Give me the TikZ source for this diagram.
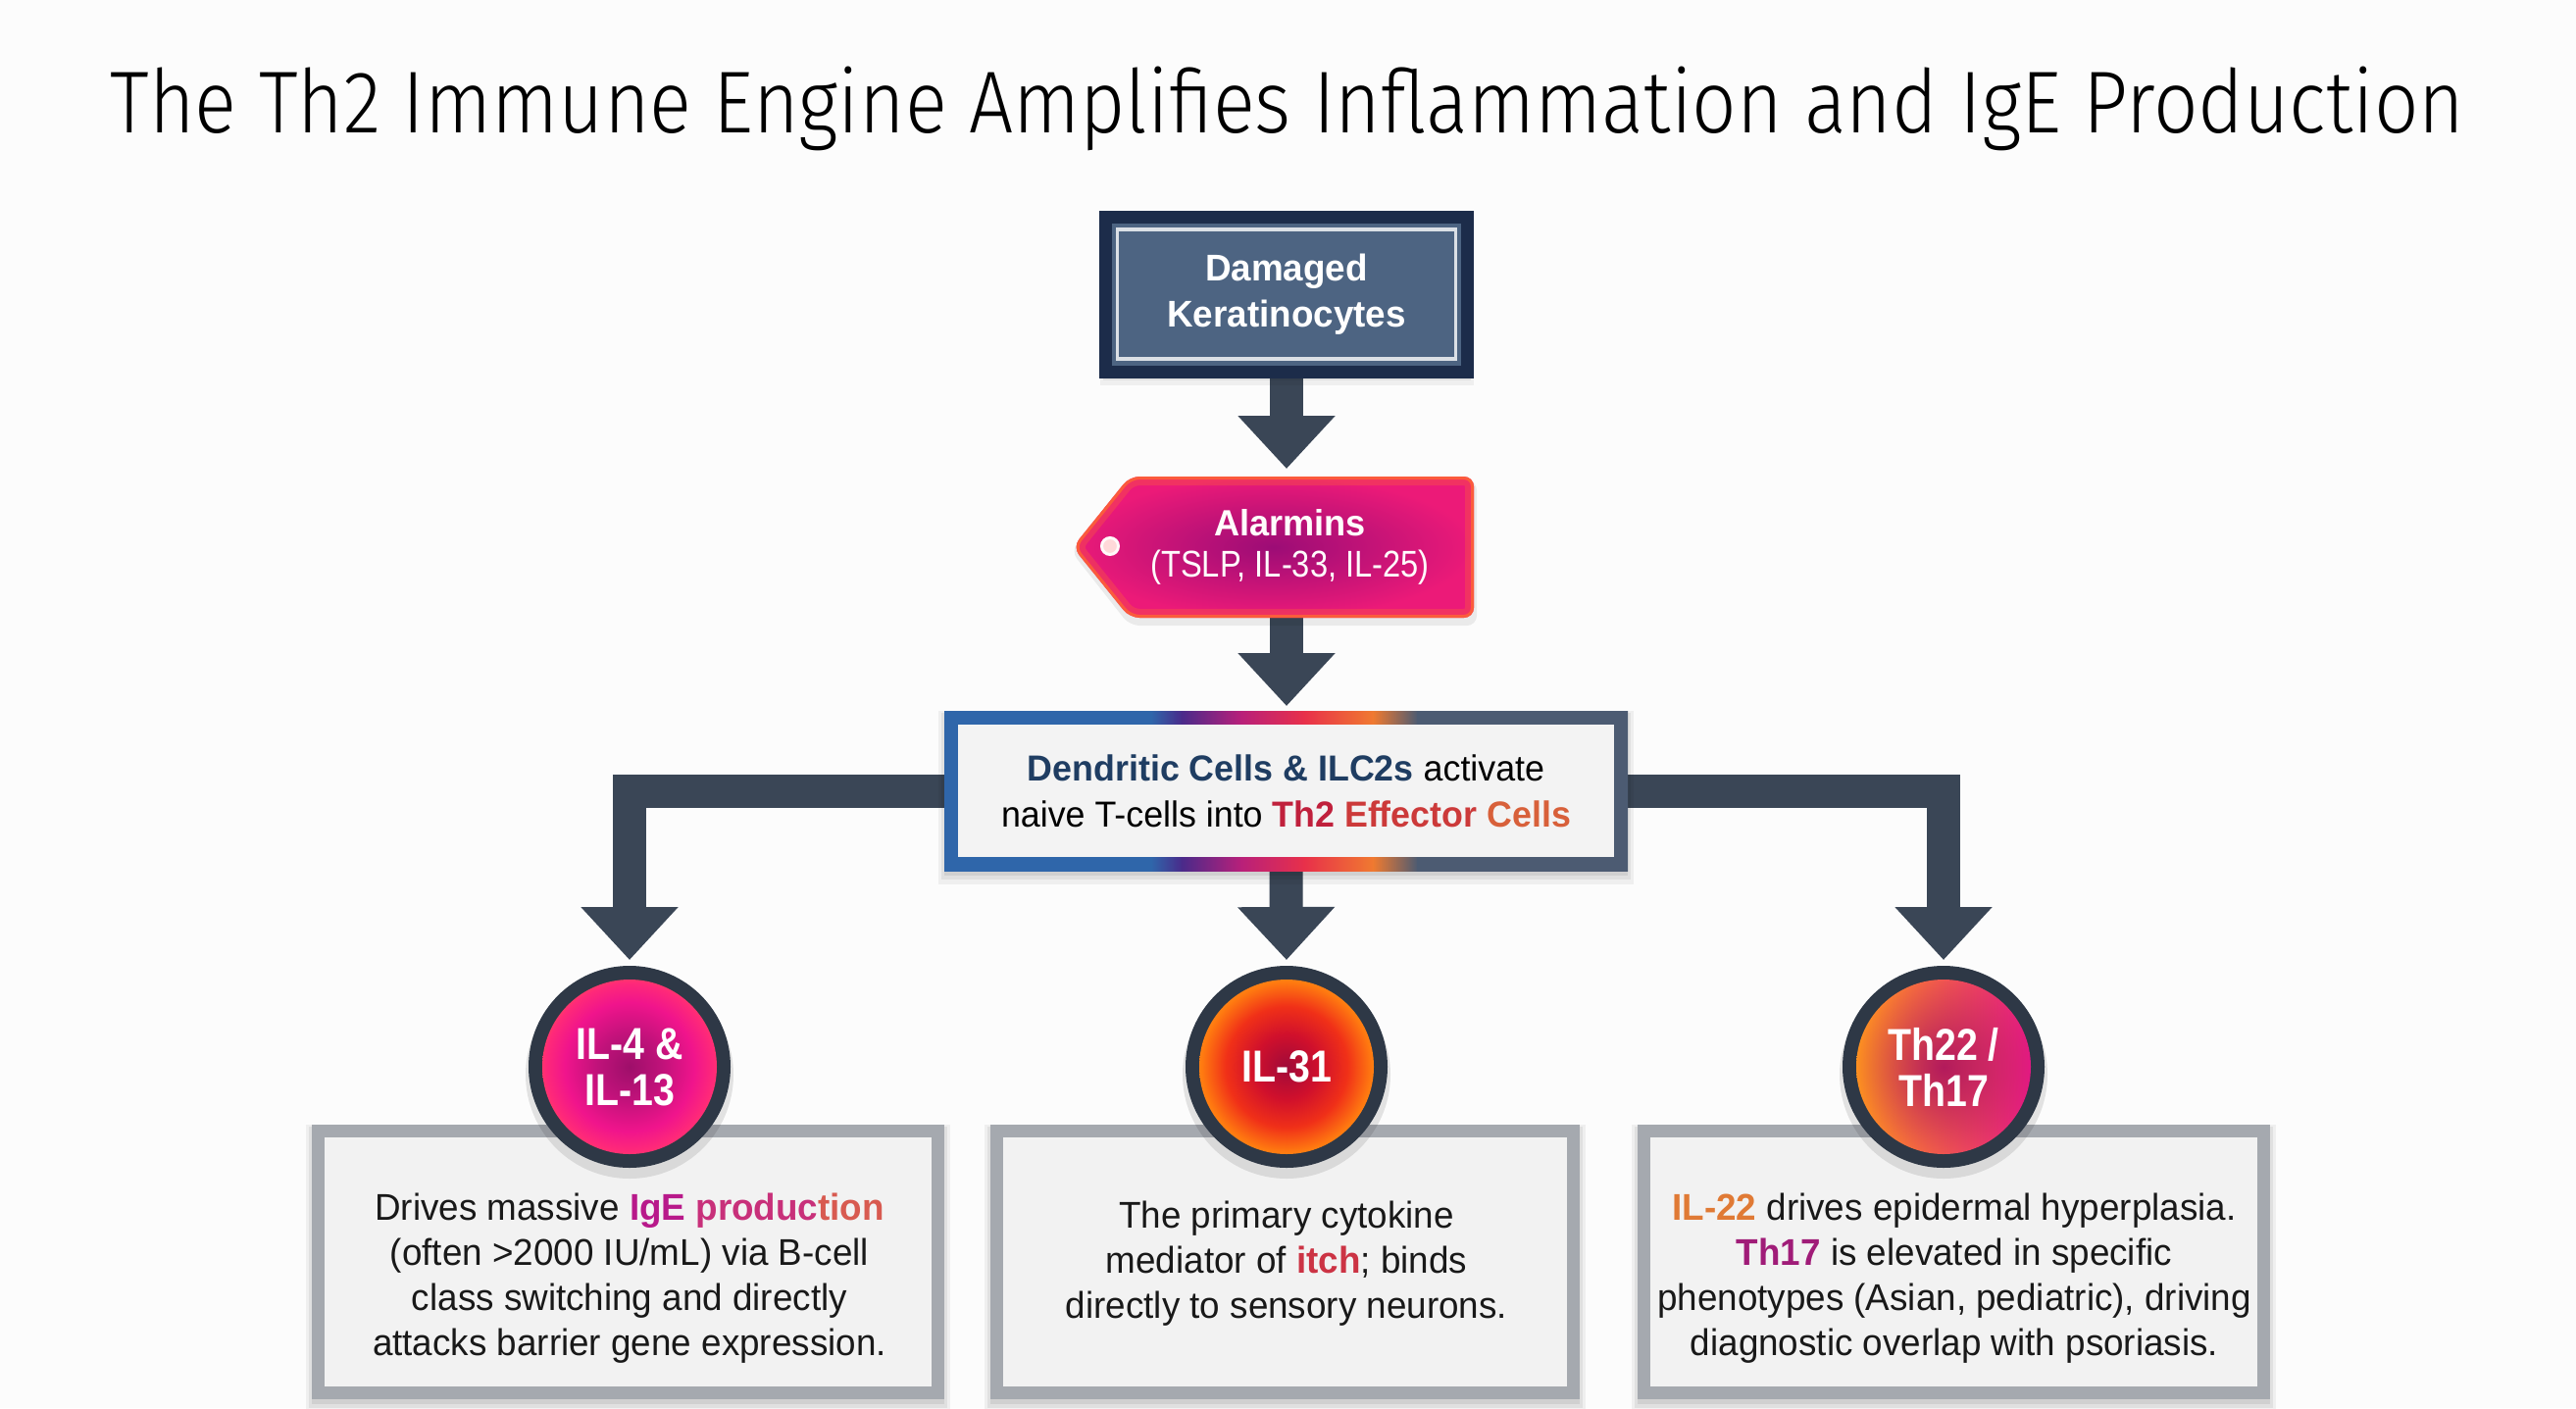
\documentclass[tikz,border=0pt]{standalone}
\usepackage{fontspec}
\setmainfont{Liberation Sans}[FakeStretch=0.97]
\newfontfamily\condfont{Liberation Sans}[FakeStretch=0.86]
\newfontfamily\titlefont{Fira Sans Light}
\usetikzlibrary{arrows.meta,fadings,calc}

\pgfdeclarelayer{bg}
\pgfdeclarelayer{shadowl}
\pgfdeclarelayer{deco}
\pgfsetlayers{bg,shadowl,deco,main}

\definecolor{bgc}{HTML}{FCFCFC}
\definecolor{navy}{HTML}{1C2C4A}
\definecolor{slate}{HTML}{4D6482}
\definecolor{arrowc}{HTML}{3A4656}
\definecolor{ringc}{HTML}{2E3846}
\definecolor{gborder}{HTML}{A5A9AF}
\definecolor{gfill}{HTML}{F2F2F2}
\definecolor{dcblue}{HTML}{2F66AA}
\definecolor{dcpurple}{HTML}{4A2A8A}
\definecolor{dcmag}{HTML}{B8207A}
\definecolor{dcred}{HTML}{E8304A}
\definecolor{dcorange}{HTML}{F07A30}
\definecolor{dcslate}{HTML}{4C5B72}
\definecolor{dcin}{HTML}{F3F3F3}
\definecolor{dcnavy}{HTML}{1F3D62}
\definecolor{th2a}{HTML}{C0203C}
\definecolor{th2b}{HTML}{CC3A3A}
\definecolor{th2c}{HTML}{D8603A}
\definecolor{igeA}{HTML}{B8198A}
\definecolor{igeB}{HTML}{C8307A}
\definecolor{igeC}{HTML}{D85A50}
\definecolor{itchc}{HTML}{CC3344}
\definecolor{il22c}{HTML}{E07A35}
\definecolor{th17c}{HTML}{A01C78}
\definecolor{tagin}{HTML}{9C0C76}
\definecolor{tagout}{HTML}{EC1A78}
\definecolor{tagglow}{HTML}{FF6A30}
\definecolor{m1}{HTML}{9E0F6A}
\definecolor{m2}{HTML}{C0127A}
\definecolor{m3}{HTML}{F0148C}
\definecolor{m4}{HTML}{FF2A78}
\definecolor{m5}{HTML}{FF6A30}
\definecolor{r1}{HTML}{A00A3A}
\definecolor{r2}{HTML}{D0102C}
\definecolor{r3}{HTML}{F03018}
\definecolor{r4}{HTML}{FF7A10}
\definecolor{r5}{HTML}{FF9A20}
\definecolor{thorange}{HTML}{FF9A18}
\definecolor{thmag}{HTML}{E0108A}
\definecolor{thcore}{HTML}{A8105E}

\pgfdeclareradialshading{shilfour}{\pgfpoint{0bp}{0bp}}{color(0bp)=(m1); color(8bp)=(m2); color(16bp)=(m3); color(21bp)=(m4); color(25bp)=(m5); color(50bp)=(m5)}
\pgfdeclareradialshading{shilthirtyone}{\pgfpoint{0bp}{0bp}}{color(0bp)=(r1); color(8bp)=(r2); color(15bp)=(r3); color(21bp)=(r4); color(25bp)=(r5); color(50bp)=(r5)}
\tikzfading[name=corefade, inner color=transparent!15, outer color=transparent!100]

\newcommand\mysoftshadow[2]{%
  \begin{pgfonlayer}{shadowl}
    \fill[black, opacity=0.05] ($(#1)+(-6,0)$) rectangle ($(#2)+(6,14)$);
    \fill[black, opacity=0.06] ($(#1)+(-3,2)$) rectangle ($(#2)+(3,9)$);
    \fill[black, opacity=0.07] ($(#1)+(0,3)$) rectangle ($(#2)+(0,5)$);
  \end{pgfonlayer}}

\tikzset{
  conn/.style={draw=arrowc, line width=3.4mm, line join=miter, -{Triangle[width=9.6mm,length=5.4mm]}},
  gbox/.style={draw=gborder, fill=gfill, line width=1.3mm, minimum height=26.7mm, inner sep=0pt, outer sep=0pt},
  bodytxt/.style={align=center, font=\fontsize{10.8pt}{13.1pt}\selectfont, text=black!90, inner sep=0pt},
  cyto/.style={circle, fill=ringc, minimum size=20.6mm, inner sep=0pt, outer sep=0pt, align=center, text=white,
    font=\condfont\bfseries\fontsize{13pt}{13.4pt}\selectfont},
}

\begin{document}
\begin{tikzpicture}[x=0.1mm, y=-0.1mm]
\useasboundingbox (0,0) rectangle (2627,1436);
\begin{pgfonlayer}{bg}
  \fill[bgc] (0,0) rectangle (2627,1436);
\end{pgfonlayer}

% title
\node[anchor=base, inner sep=0pt] (title) at (1313,135)
  {\titlefont\fontsize{25.5pt}{30pt}\selectfont\resizebox{683pt}{\height}{The Th2 Immune Engine Amplifies Inflammation and IgE Production}};

% damaged keratinocytes
\node[draw=navy, fill=slate, line width=1.3mm, minimum width=36.9mm, minimum height=15.8mm, inner sep=0pt, outer sep=0pt,
  align=center, text=white, font=\bfseries\fontsize{10.8pt}{13.4pt}\selectfont]
  (dk) at (1312,300) {Damaged\\Keratinocytes};
\draw[white!80!slate, line width=0.35mm] ([shift={(12,13)}]dk.north west) rectangle ([shift={(-12,-13)}]dk.south east);
\mysoftshadow{dk.north west}{dk.south east}

% alarmins tag
\node[minimum width=37.5mm, minimum height=14.4mm, inner sep=0pt, outer sep=0pt, align=center, text=white!95!pink]
  (al) at (1315.5,558) {{\bfseries\fontsize{10.6pt}{12.8pt}\selectfont Alarmins}\\[0pt]{\condfont\fontsize{10.8pt}{12.8pt}\selectfont (TSLP, IL-33, IL-25)}};
\begin{pgfonlayer}{shadowl}
  \fill[black, opacity=0.07, rounded corners=1mm]
    (1152,490) -- (1506,490) -- (1506,638) -- (1152,638) -- (1092,562) -- cycle;
\end{pgfonlayer}
\begin{pgfonlayer}{deco}
  \shade[inner color=tagin, outer color=tagout, rounded corners=1mm]
    (1152,486) -- (1503,486) -- (1503,630) -- (1152,630) -- (1094,558) -- cycle;
  \begin{scope}
    \clip[rounded corners=1mm] (1152,486) -- (1503,486) -- (1503,630) -- (1152,630) -- (1094,558) -- cycle;
    \draw[tagglow, line width=1.8mm, opacity=0.3, rounded corners=1mm]
      (1152,486) -- (1503,486) -- (1503,630) -- (1152,630) -- (1094,558) -- cycle;
    \draw[tagglow, line width=0.6mm, opacity=0.75, rounded corners=1mm]
      (1152,486) -- (1503,486) -- (1503,630) -- (1152,630) -- (1094,558) -- cycle;
  \end{scope}
  \fill[pink!60!white, draw=white!90!pink, line width=0.3mm] (1132,557) circle[radius=0.85mm];
\end{pgfonlayer}

% dendritic cells box
\node[minimum width=69.7mm, minimum height=16.3mm, inner sep=0pt, outer sep=0pt, align=center,
  font=\fontsize{10.5pt}{13.4pt}\selectfont]
  (dc) at (1311.5,806.5)
  {\textbf{\textcolor{dcnavy}{Dendritic Cells \& ILC2s}} activate\\
   naive T-cells into \textbf{\textcolor{th2a}{Th2} \textcolor{th2b}{Effector} \textcolor{th2c}{Cells}}};
\mysoftshadow{dc.north west}{dc.south east}
\begin{pgfonlayer}{deco}
  \begin{scope}
    \clip (dc.north west) rectangle (dc.south east);
    \fill[dcblue] (960,720) rectangle (1175,892);
    \shade[left color=dcblue, right color=dcpurple] (1174,720) rectangle (1206,892);
    \shade[left color=dcpurple, right color=dcmag] (1205,720) rectangle (1266,892);
    \shade[left color=dcmag, right color=dcred] (1265,720) rectangle (1331,892);
    \shade[left color=dcred, right color=dcorange] (1330,720) rectangle (1401,892);
    \shade[left color=dcorange, right color=dcslate] (1400,720) rectangle (1446,892);
    \fill[dcslate] (1445,720) rectangle (1665,892);
  \end{scope}
  \fill[dcin] ([shift={(14,14)}]dc.north west) rectangle ([shift={(-14,-14)}]dc.south east);
\end{pgfonlayer}

% bottom boxes
\node[gbox, minimum width=63.2mm] (b1) at (640.5,1287) {};
\node[gbox, minimum width=58.8mm] (b2) at (1310.5,1287) {};
\node[gbox, minimum width=63.2mm] (b3) at (1992.5,1287) {};
\mysoftshadow{[shift={(-6.5,-6.5)}]b1.north west}{[shift={(6.5,6.5)}]b1.south east}
\mysoftshadow{[shift={(-6.5,-6.5)}]b2.north west}{[shift={(6.5,6.5)}]b2.south east}
\mysoftshadow{[shift={(-6.5,-6.5)}]b3.north west}{[shift={(6.5,6.5)}]b3.south east}

\node[bodytxt] (t1) at (642,1304)
  {Drives massive \textbf{\textcolor{igeA}{IgE} \textcolor{igeB}{produc}\textcolor{igeC}{tion}}\\
   (often >2000 IU/mL) via B-cell\\
   class switching and directly\\
   attacks barrier gene expression.};
\node[bodytxt] (t2) at (1312,1289)
  {The primary cytokine\\
   mediator of \textbf{\textcolor{itchc}{itch}}; binds\\
   directly to sensory neurons.};
\node[bodytxt] (t3) at (1993,1304)
  {\textbf{\textcolor{il22c}{IL-22}} drives epidermal hyperplasia.\\
   \textbf{\textcolor{th17c}{Th17}} is elevated in specific\\
   phenotypes (Asian, pediatric), driving\\
   diagnostic overlap with psoriasis.};

% cytokine circles
\fill[black, opacity=0.10] (642,1096) circle[radius=10.6mm];
\node[cyto, path picture={\shade[shading=shilfour] (path picture bounding box.center) circle[radius=8.9mm];}]
  (il4) at (642,1088) {IL-4 \&\\IL-13};
\fill[black, opacity=0.10] (1312,1096) circle[radius=10.6mm];
\node[cyto, path picture={\shade[shading=shilthirtyone] (path picture bounding box.center) circle[radius=8.9mm];}]
  (il31) at (1312,1088) {IL-31};
\fill[black, opacity=0.10] (1982,1096) circle[radius=10.6mm];
\node[cyto, path picture={\shade[left color=thorange, right color=thmag] (path picture bounding box.center) circle[radius=8.9mm];
    \fill[thcore, path fading=corefade] (path picture bounding box.center) circle[radius=8.9mm];}]
  (th) at (1982,1088) {Th22 /\\Th17};

% connectors
\begin{pgfonlayer}{bg}
  \draw[conn, shorten >=0.8mm] (dk.south) -- (dk.south |- al.north);
  \draw[conn, shorten >=0.5mm] (dk.south |- al.south) -- (dk.south |- dc.north);
  \draw[conn, shorten >=0.6mm] (dc.west) -| (il4.north);
  \draw[conn, shorten >=0.6mm] (dc.south) -- (il31.north);
  \draw[conn, shorten >=0.6mm] (dc.east) -| (th.north);
\end{pgfonlayer}
\end{tikzpicture}
\end{document}
